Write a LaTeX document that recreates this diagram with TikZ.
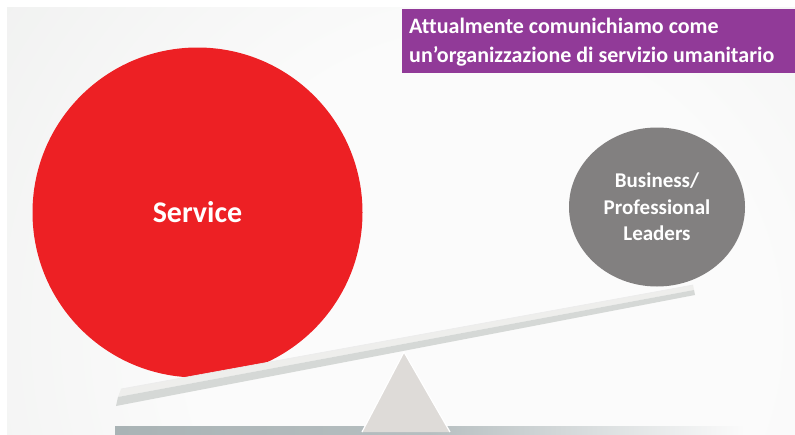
\documentclass[tikz,border=0pt]{standalone}
\usepackage{fontspec}
\setmainfont{Carlito}[Ligatures={NoCommon}]
\usetikzlibrary{shapes.geometric}
\definecolor{bgouter}{HTML}{DCDEDC}
\definecolor{bginner}{HTML}{FBFBFB}
\definecolor{svcred}{HTML}{ED2024}
\definecolor{bizgray}{HTML}{828080}
\definecolor{boxpurple}{HTML}{913A98}
\definecolor{planktop}{HTML}{EEEEEC}
\definecolor{plankfront}{HTML}{D5D8D6}
\definecolor{fulcrum}{HTML}{DEDBD8}
\definecolor{shelf}{HTML}{A9B3B5}
\pgfdeclareradialshading{bgshade}{\pgfpoint{0bp}{0bp}}{color(0bp)=(bginner); color(12bp)=(bginner); color(50bp)=(bgouter)}
\tikzset{
  disc/.style={inner sep=0pt, text=white, font=\bfseries, align=center},
  labeltext/.style={font=\bfseries\fontsize{22}{28.5}\selectfont, text=white, align=left, inner sep=0pt, anchor=north west}
}
\begin{document}
\begin{tikzpicture}[x=1pt,y=-1pt]
\useasboundingbox (0,0) rectangle (795,434);
\fill[white] (0,0) rectangle (795,434);
% background
\begin{scope}
\clip (7,7) rectangle (795,434);
\shade[shading=bgshade] (480-600,330-600) rectangle (480+600,330+600);
\end{scope}
% shelf at bottom
\shade[left color=shelf, right color=bginner, middle color=shelf!85!white] (115,426) rectangle (745,434);
% red circle
\node[disc, circle, fill=svcred, minimum size=330pt, font=\bfseries\fontsize{30}{34}\selectfont] (service) at (197.5,212.5) {Service};
% gray circle
\node[disc, ellipse, fill=bizgray, minimum width=176pt, minimum height=159pt, font=\bfseries\fontsize{21}{26.5}\selectfont] (biz) at (657,207) {Business/\\Professional\\Leaders};
% fulcrum
\coordinate (apex) at (404,352);
\coordinate (bl) at (362,432);
\coordinate (br) at (450,432);
\fill[fulcrum] (apex) -- (br) -- (bl) -- cycle;
\draw[white, line width=1.2pt] (bl) -- (apex) -- (br);
% plank
\coordinate (ptl) at (121,389);
\coordinate (ptr) at (693,285);
\coordinate (pbr) at (695,295);
\coordinate (pbl) at (116,406);
\coordinate (pml) at (118,397);
\coordinate (pmr) at (694,290);
\fill[planktop] (ptl) -- (ptr) -- (pmr) -- (pml) -- cycle;
\fill[plankfront] (pml) -- (pmr) -- (pbr) -- (pbl) -- cycle;
\draw[white!85!gray, line width=0.6pt] (ptl) -- (ptr);
% purple label box
\node[fill=boxpurple, minimum width=393pt, minimum height=64pt, inner sep=0pt, anchor=north west] (box) at (402,9) {};
\node[labeltext] (label) at (409,18) {Attualmente comunichiamo come\\un’organizzazione di servizio umanitario};
\end{tikzpicture}
\end{document}
